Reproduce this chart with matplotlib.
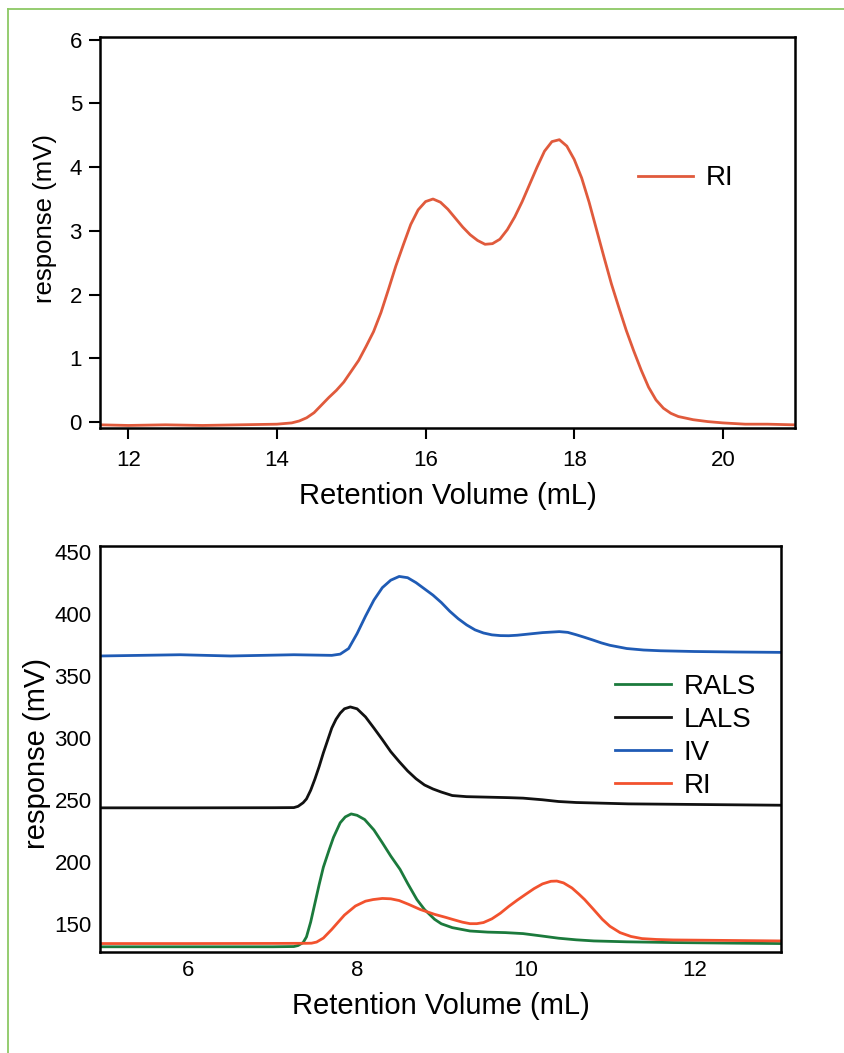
import numpy as np
import matplotlib
matplotlib.use('agg')
from matplotlib import pyplot as plt
from matplotlib.lines import Line2D

plt.rcParams['font.family'] = ['Liberation Sans', 'DejaVu Sans']

# top panel: RI trace
top_x = [11.62, 12.0, 12.5, 13.0, 13.5, 14.0, 14.2, 14.3, 14.4, 14.5, 14.6, 14.7, 14.8, 14.9,
         15.0, 15.1, 15.2, 15.3, 15.4, 15.5, 15.6, 15.7, 15.8, 15.9, 16.0, 16.1, 16.2, 16.3,
         16.4, 16.5, 16.6, 16.7, 16.8, 16.9, 17.0, 17.1, 17.2, 17.3, 17.4, 17.5, 17.6, 17.7,
         17.8, 17.9, 18.0, 18.1, 18.2, 18.3, 18.4, 18.5, 18.6, 18.7, 18.8, 18.9, 19.0, 19.1,
         19.2, 19.3, 19.4, 19.6, 19.8, 20.0, 20.3, 20.6, 20.95]
top_ri = [-0.04, -0.05, -0.04, -0.05, -0.04, -0.03, -0.01, 0.02, 0.07, 0.15, 0.27, 0.39, 0.50, 0.63,
          0.80, 0.97, 1.19, 1.42, 1.72, 2.08, 2.45, 2.78, 3.10, 3.33, 3.46, 3.50, 3.45, 3.34,
          3.20, 3.06, 2.94, 2.85, 2.79, 2.80, 2.87, 3.02, 3.22, 3.46, 3.73, 4.00, 4.25, 4.40,
          4.43, 4.33, 4.12, 3.83, 3.45, 3.02, 2.59, 2.17, 1.80, 1.44, 1.12, 0.82, 0.55, 0.35,
          0.22, 0.14, 0.09, 0.04, 0.01, -0.01, -0.03, -0.03, -0.04]

# bottom panel: four detectors
iv_x = [4.95, 5.9, 6.5, 7.25, 7.7, 7.8, 7.9, 8.0, 8.1, 8.2, 8.3, 8.4, 8.5, 8.6, 8.7, 8.8, 8.9,
        9.0, 9.1, 9.2, 9.3, 9.4, 9.5, 9.6, 9.7, 9.8, 9.9, 10.0, 10.2, 10.4, 10.5, 10.6, 10.7,
        10.8, 10.9, 11.0, 11.2, 11.4, 11.6, 12.0, 12.5, 13.03]
iv_y = [366.0, 367.0, 366.0, 367.0, 366.5, 367.5, 372.0, 384.0, 398.0, 411.0, 421.0, 427.0,
        430.0, 429.0, 425.0, 420.0, 415.0, 409.0, 402.0, 396.0, 391.0, 387.0, 384.5, 383.0,
        382.4, 382.3, 382.7, 383.4, 384.8, 385.6, 385.0, 383.1, 381.0, 378.8, 376.5, 374.6,
        372.0, 370.8, 370.2, 369.6, 369.2, 368.9]

lals_x = [4.95, 6.0, 7.0, 7.25, 7.30, 7.36, 7.40, 7.45, 7.50, 7.55, 7.60, 7.65, 7.70, 7.75,
          7.80, 7.85, 7.92, 8.00, 8.10, 8.20, 8.30, 8.40, 8.50, 8.60, 8.70, 8.80, 8.90, 9.00,
          9.13, 9.30, 9.55, 9.80, 9.97, 10.2, 10.39, 10.6, 11.22, 12.2, 13.03]
lals_y = [243.8, 243.8, 243.9, 244.0, 245.0, 247.9, 251.0, 258.0, 267.0, 277.0, 288.0, 298.0,
          308.0, 315.0, 320.0, 323.5, 325.0, 323.5, 317.0, 308.0, 298.7, 289.0, 281.0, 273.5,
          267.2, 262.2, 259.0, 256.5, 253.7, 252.8, 252.4, 252.0, 251.6, 250.3, 248.9, 248.1,
          247.0, 246.4, 245.9]

rals_x = [4.95, 6.0, 7.0, 7.25, 7.30, 7.36, 7.40, 7.45, 7.51, 7.55, 7.60, 7.67, 7.72, 7.80,
          7.86, 7.93, 8.00, 8.09, 8.20, 8.30, 8.40, 8.51, 8.60, 8.71, 8.80, 8.92, 9.00, 9.13,
          9.34, 9.55, 9.76, 9.97, 10.2, 10.39, 10.6, 10.81, 11.2, 11.75, 12.5, 13.03]
rals_y = [132.0, 132.0, 132.0, 132.2, 133.0, 135.4, 140.0, 152.0, 170.0, 182.0, 196.0, 210.3,
          220.0, 231.8, 236.5, 238.9, 237.8, 234.4, 226.0, 215.7, 205.0, 194.3, 183.0, 170.0,
          162.0, 154.1, 150.5, 147.4, 144.7, 143.8, 143.4, 142.6, 140.6, 138.9, 137.6, 136.7,
          136.0, 135.4, 134.9, 134.6]

ri_x = [4.95, 6.0, 7.0, 7.40, 7.46, 7.52, 7.60, 7.70, 7.77, 7.85, 7.98, 8.10, 8.19, 8.30,
        8.40, 8.50, 8.61, 8.75, 8.92, 9.05, 9.13, 9.25, 9.34, 9.42, 9.50, 9.60, 9.70, 9.80,
        9.90, 10.0, 10.1, 10.2, 10.3, 10.37, 10.45, 10.55, 10.63, 10.70, 10.80, 10.91, 11.0,
        11.12, 11.25, 11.38, 11.55, 11.75, 12.4, 13.03]
ri_y = [134.6, 134.6, 134.7, 134.8, 134.9, 135.8, 139.0, 146.0, 151.4, 157.5, 164.8, 168.7,
        170.0, 170.9, 170.6, 169.2, 166.2, 162.0, 158.1, 155.7, 154.1, 151.8, 150.6, 150.6,
        151.5, 154.5, 159.0, 164.5, 169.5, 174.2, 178.8, 182.6, 184.7, 184.9, 183.4, 179.3,
        174.5, 170.0, 162.5, 154.1, 148.5, 143.4, 140.3, 138.6, 137.9, 137.5, 137.1, 136.7]

top_color = '#e05a3c'
c_rals, c_lals, c_iv, c_ri = '#1b7a3c', '#111111', '#1f5bb5', '#f2522e'

fig = plt.figure(figsize=(8.45, 10.53), dpi=100)

# green frame lines
fig.add_artist(Line2D([8/845, 8/845], [0, 1 - 9/1053], color='#8cc864', lw=1.3))
fig.add_artist(Line2D([8/845, 1], [1 - 9/1053, 1 - 9/1053], color='#8cc864', lw=1.3))

ax1 = fig.add_axes([100/845, 1 - 428/1053, 695/845, 391/1053])
ax1.plot(top_x, top_ri, color=top_color, lw=2, label='RI')
ax1.set_xlim(11.62, 20.97)
ax1.set_ylim(-0.09, 6.04)
ax1.set_xticks([12, 14, 16, 18, 20])
ax1.set_yticks(range(0, 7))
ax1.tick_params(direction='out', length=8, width=1.5, labelsize=16, pad=5)
ax1.tick_params(axis='x', pad=8)
ax1.set_xlabel('Retention Volume (mL)', fontsize=21, labelpad=8)
ax1.set_ylabel('response (mV)', fontsize=18.5)
ax1.yaxis.set_label_coords(-0.062, 0.535)
for s in ax1.spines.values():
    s.set_linewidth(1.8)
ax1.legend(loc='upper left', bbox_to_anchor=(0.738, 0.736), frameon=False, fontsize=20,
           handlelength=2.0, handletextpad=0.45)

ax2 = fig.add_axes([100/845, 1 - 952/1053, 681/845, 406/1053])
ax2.plot(rals_x, rals_y, color=c_rals, lw=2, label='RALS')
ax2.plot(lals_x, lals_y, color=c_lals, lw=2, label='LALS')
ax2.plot(iv_x, iv_y, color=c_iv, lw=2, label='IV')
ax2.plot(ri_x, ri_y, color=c_ri, lw=2, label='RI')
ax2.set_xlim(4.95, 13.03)
ax2.set_ylim(127.8, 454.5)
ax2.set_xticks([6, 8, 10, 12])
ax2.set_yticks(range(150, 451, 50))
ax2.tick_params(length=0, labelsize=16, pad=6)
ax2.set_xlabel('Retention Volume (mL)', fontsize=21, labelpad=8)
ax2.set_ylabel('response (mV)', fontsize=21)
ax2.yaxis.set_label_coords(-0.072, 0.49)
for s in ax2.spines.values():
    s.set_linewidth(1.8)
ax2.legend(loc='upper left', bbox_to_anchor=(0.72, 0.747), frameon=False, fontsize=20,
           handlelength=2.0, handletextpad=0.45, labelspacing=0.25)

fig.savefig('out.png', dpi=100)
